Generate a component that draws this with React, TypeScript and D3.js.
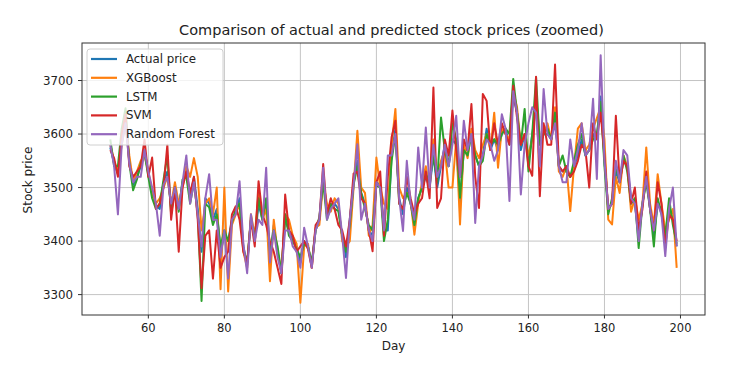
import React from "react";
import * as d3 from "d3";

const days: number[] = Array.from({ length: 150 }, (_, i) => 50 + i);

const actual: number[] = [
  3575, 3545, 3525, 3590, 3630, 3550, 3505, 3520, 3540, 3570,
  3525, 3495, 3465, 3460, 3510, 3530, 3460, 3500, 3460, 3510,
  3530, 3480, 3520, 3460, 3380, 3480, 3470, 3440, 3460, 3380,
  3410, 3400, 3440, 3455, 3480, 3390, 3355, 3445, 3400, 3470,
  3440, 3470, 3370, 3430, 3380, 3340, 3440, 3420, 3400, 3390,
  3360, 3400, 3390, 3355, 3420, 3440, 3520, 3450, 3460, 3470,
  3460, 3410, 3370, 3440, 3510, 3550, 3490, 3470, 3420, 3410,
  3510, 3505, 3420, 3420, 3560, 3610, 3480, 3450, 3500, 3470,
  3440, 3480, 3500, 3520, 3500, 3560, 3500, 3540, 3580, 3540,
  3590, 3580, 3470, 3570, 3570, 3600, 3560, 3540, 3560, 3610,
  3570, 3590, 3570, 3600, 3610, 3580, 3670, 3640, 3570, 3600,
  3550, 3600, 3650, 3580, 3600, 3600, 3590, 3640, 3540, 3530,
  3530, 3520, 3540, 3560, 3590, 3560, 3570, 3600, 3590, 3670,
  3550, 3460, 3470, 3530, 3510, 3550, 3540, 3480, 3470, 3410,
  3470, 3520, 3460, 3410, 3470, 3460, 3400, 3460, 3440, 3390,
];

const xgboost: number[] = [
  3580, 3550, 3530, 3580, 3620, 3560, 3510, 3530, 3550, 3560,
  3530, 3490, 3470, 3480, 3500, 3520, 3470, 3510, 3470, 3500,
  3540, 3520, 3555, 3520, 3420, 3470, 3480, 3450, 3500, 3310,
  3500, 3306, 3430, 3450, 3470, 3380, 3350, 3450, 3410, 3490,
  3440, 3460, 3325, 3440, 3380, 3345, 3450, 3440, 3410, 3395,
  3285, 3390, 3395, 3350, 3425, 3430, 3510, 3470, 3455, 3480,
  3470, 3400, 3390, 3400, 3500, 3606, 3500, 3490, 3410, 3430,
  3556, 3500, 3470, 3460, 3580, 3647, 3500, 3480, 3490, 3475,
  3412, 3470, 3510, 3540, 3500, 3590, 3520, 3550, 3570, 3500,
  3500, 3590, 3431, 3580, 3555, 3610, 3570, 3555, 3580, 3600,
  3570, 3640, 3537, 3610, 3600, 3590, 3680, 3650, 3580, 3600,
  3560, 3590, 3670, 3590, 3600, 3620, 3590, 3650, 3530, 3520,
  3540, 3456, 3540, 3610, 3620, 3570, 3580, 3610, 3630, 3650,
  3590, 3440, 3431, 3520, 3490, 3560, 3540, 3455, 3480, 3440,
  3470, 3575, 3470, 3430, 3525, 3470, 3420, 3440, 3460, 3350,
];

const lstm: number[] = [
  3590, 3540, 3540, 3610, 3648, 3545, 3495, 3515, 3545, 3565,
  3520, 3480, 3460, 3470, 3515, 3560, 3450, 3500, 3455, 3515,
  3520, 3470, 3510, 3450, 3288, 3470, 3463, 3430, 3450, 3390,
  3420, 3400, 3435, 3460, 3470, 3385, 3360, 3440, 3405, 3480,
  3440, 3480, 3380, 3420, 3390, 3340, 3450, 3410, 3400, 3385,
  3370, 3395, 3390, 3360, 3420, 3445, 3510, 3440, 3470, 3460,
  3456, 3410, 3380, 3430, 3505, 3540, 3490, 3460, 3430, 3420,
  3505, 3500, 3400, 3440, 3550, 3600, 3470, 3460, 3490, 3470,
  3430, 3480, 3500, 3525, 3510, 3560, 3510, 3631, 3570, 3540,
  3620, 3590, 3481, 3570, 3560, 3600, 3560, 3540, 3550, 3600,
  3580, 3590, 3580, 3600, 3610, 3600, 3703, 3640, 3580, 3647,
  3530, 3600, 3706, 3580, 3600, 3610, 3590, 3640, 3540, 3560,
  3530, 3520, 3550, 3580, 3600, 3560, 3570, 3590, 3600, 3660,
  3540, 3450, 3480, 3540, 3510, 3560, 3530, 3470, 3480, 3387,
  3470, 3510, 3460, 3390, 3480, 3450, 3410, 3480, 3430, 3395,
];

const svm: number[] = [
  3570, 3555, 3520, 3600, 3637, 3540, 3520, 3530, 3540, 3590,
  3520, 3556, 3460, 3470, 3500, 3580, 3440, 3500, 3380, 3500,
  3530, 3490, 3520, 3440, 3312, 3410, 3420, 3330, 3420, 3350,
  3370, 3380, 3450, 3465, 3440, 3380, 3360, 3440, 3390, 3512,
  3450, 3430, 3400, 3380, 3350, 3320, 3487, 3420, 3410, 3380,
  3390, 3400, 3385, 3350, 3430, 3440, 3544, 3450, 3480, 3460,
  3430, 3420, 3390, 3440, 3526, 3530, 3480, 3470, 3420, 3381,
  3510, 3530, 3410, 3520, 3594, 3625, 3470, 3460, 3520, 3480,
  3450, 3470, 3480, 3530, 3480, 3687, 3462, 3480, 3590, 3560,
  3644, 3570, 3520, 3590, 3570, 3656, 3520, 3462, 3675, 3662,
  3570, 3620, 3580, 3620, 3600, 3580, 3690, 3630, 3580, 3600,
  3540, 3522, 3707, 3484, 3620, 3580, 3580, 3730, 3540, 3530,
  3540, 3520, 3530, 3550, 3580, 3570, 3500, 3620, 3590, 3640,
  3560, 3460, 3470, 3634, 3510, 3550, 3540, 3470, 3500, 3420,
  3460, 3530, 3460, 3420, 3510, 3470, 3390, 3450, 3440, 3400,
];

const randomForest: number[] = [
  3580, 3540, 3450, 3580, 3620, 3545, 3510, 3520, 3520, 3570,
  3530, 3500, 3470, 3410, 3505, 3520, 3470, 3500, 3460, 3510,
  3560, 3470, 3510, 3450, 3390, 3480, 3525, 3440, 3440, 3370,
  3420, 3330, 3440, 3450, 3512, 3395, 3340, 3450, 3400, 3440,
  3430, 3537, 3360, 3420, 3370, 3340, 3420, 3420, 3390, 3380,
  3350, 3425, 3390, 3350, 3420, 3440, 3537, 3440, 3460, 3470,
  3480, 3410, 3331, 3440, 3505, 3581, 3440, 3470, 3420, 3400,
  3510, 3500, 3420, 3560, 3560, 3600, 3480, 3419, 3550, 3470,
  3440, 3575, 3500, 3612, 3500, 3580, 3520, 3540, 3580, 3540,
  3580, 3634, 3520, 3625, 3570, 3600, 3434, 3540, 3560, 3590,
  3580, 3550, 3570, 3637, 3610, 3475, 3680, 3640, 3487, 3580,
  3620, 3650, 3640, 3540, 3684, 3600, 3590, 3620, 3540, 3510,
  3510, 3590, 3540, 3570, 3620, 3560, 3570, 3666, 3516, 3747,
  3550, 3460, 3470, 3550, 3510, 3570, 3560, 3480, 3470, 3400,
  3470, 3520, 3460, 3420, 3470, 3450, 3372, 3460, 3500, 3390,
];

const seriesNames: string[] = ["Actual price", "XGBoost", "LSTM", "SVM", "Random Forest"];
const seriesColors: string[] = ["#1f77b4", "#ff7f0e", "#2ca02c", "#d62728", "#9467bd"];
const xTicks: number[] = [60, 80, 100, 120, 140, 160, 180, 200];
const yTicks: number[] = [3300, 3400, 3500, 3600, 3700];

const W = 732, H = 377;
const M = { left: 82, right: 705, top: 43, bottom: 315 };
const FONT = "DejaVu Sans, sans-serif";

export default function App() {
  const allSeries = [actual, xgboost, lstm, svm, randomForest];
  const xMin = d3.min(days)!, xMax = d3.max(days)!;
  const xPad = (xMax - xMin) * 0.05;
  const allVals = allSeries.flat();
  const yMin = d3.min(allVals)!, yMax = d3.max(allVals)!;
  const yPad = (yMax - yMin) * 0.05;
  const x = d3.scaleLinear().domain([xMin - xPad, xMax + xPad]).range([M.left, M.right]);
  const y = d3.scaleLinear().domain([yMin - yPad, yMax + yPad]).range([M.bottom, M.top]);
  const line = d3.line<number>().x((_, i) => x(days[i])).y((v) => y(v));

  return (
    <svg width={W} height={H} style={{ position: "absolute", left: 0, top: 0, background: "#fff" }} fontFamily={FONT}>
      <rect x={0} y={0} width={W} height={H} fill="#fff" />
      {xTicks.map((t) => (
        <line key={"gx" + t} x1={x(t)} x2={x(t)} y1={M.top} y2={M.bottom} stroke="#c4c4c4" strokeWidth={1} />
      ))}
      {yTicks.map((t) => (
        <line key={"gy" + t} x1={M.left} x2={M.right} y1={y(t)} y2={y(t)} stroke="#c4c4c4" strokeWidth={1} />
      ))}
      <defs>
        <clipPath id="clip">
          <rect x={M.left} y={M.top} width={M.right - M.left} height={M.bottom - M.top} />
        </clipPath>
      </defs>
      <g clipPath="url(#clip)">
        {allSeries.map((s, i) => (
          <path key={seriesNames[i]} d={line(s)!} fill="none" stroke={seriesColors[i]} strokeWidth={2} strokeLinejoin="round" />
        ))}
      </g>
      <rect x={M.left} y={M.top} width={M.right - M.left} height={M.bottom - M.top} fill="none" stroke="#333" strokeWidth={1} />
      {xTicks.map((t) => (
        <g key={"xt" + t}>
          <line x1={x(t)} x2={x(t)} y1={M.bottom} y2={M.bottom + 3.5} stroke="#333" />
          <text x={x(t)} y={M.bottom + 16.5} textAnchor="middle" fontSize={11.5} fill="#222">{t}</text>
        </g>
      ))}
      {yTicks.map((t) => (
        <g key={"yt" + t}>
          <line x1={M.left - 4} x2={M.left} y1={y(t)} y2={y(t)} stroke="#333" />
          <text x={M.left - 9} y={y(t) + 4.2} textAnchor="end" fontSize={11.8} fill="#222">{t}</text>
        </g>
      ))}
      <text x={(M.left + M.right) / 2} y={349.5} textAnchor="middle" fontSize={12} fill="#222">Day</text>
      <text transform={`translate(32,${(M.top + M.bottom) / 2 + 1}) rotate(-90)`} textAnchor="middle" fontSize={12} fill="#222">Stock price</text>
      <text x={391.5} y={35} textAnchor="middle" fontSize={14.5} fill="#222">Comparison of actual and predicted stock prices (zoomed)</text>
      <g>
        <rect x={87} y={49} width={136} height={96} rx={3} fill="#fff" fillOpacity={0.8} stroke="#d0d0d0" strokeWidth={1} />
        {seriesNames.map((n, i) => (
          <g key={"lg" + n}>
            <line x1={91} x2={117} y1={59 + i * 18.8} y2={59 + i * 18.8} stroke={seriesColors[i]} strokeWidth={2.2} />
            <text x={126} y={59 + i * 18.8 + 4} fontSize={11.8} fill="#222">{n}</text>
          </g>
        ))}
      </g>
    </svg>
  );
}
